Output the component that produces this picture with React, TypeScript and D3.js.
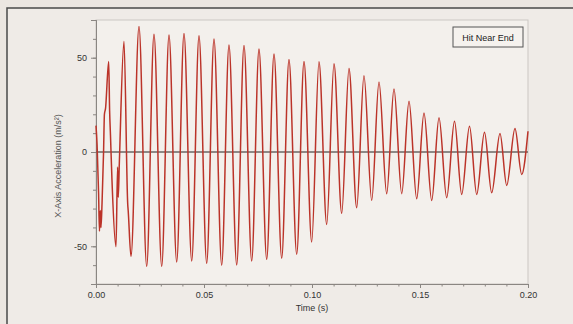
import React, { useRef, useEffect } from "react";
import * as d3 from "d3";

// time in ms, acceleration in m/s²
const onsetTimes = [0, 0.5, 1.2, 1.6, 2.0, 2.3, 2.8, 3.5, 3.9, 4.4, 6.3, 6.7, 7.4, 10.0, 10.3, 10.8, 14.7, 14.9];
const onsetAccel = [14, 4, -22, -42, -31, -40, -27, 0, 20, 23, 22, 9, -15, -8, -24, -6, -28, -31];

const peakTimes = [5.88, 12.96, 19.91, 26.85, 33.8, 40.74, 47.69, 54.63, 61.57, 68.52, 75.46, 82.41, 89.35, 96.3, 103.24, 110.19, 117.13, 124.07, 131.02, 137.96, 144.91, 151.85, 158.8, 165.97, 172.92, 179.86, 187.04, 193.98];
const peakAccel = [48, 58.6, 66.5, 62.5, 62, 62.9, 61.6, 59.9, 56.7, 56.5, 54.6, 52, 49, 48, 47.9, 46.8, 44.3, 40.5, 37.1, 33.4, 26.9, 20.7, 18.1, 16.3, 13.7, 10.5, 9.8, 12.4];

const troughTimes = [9.26, 16.2, 23.47, 30.42, 37.36, 44.31, 51.25, 58.19, 65.14, 72.08, 79.03, 85.97, 92.92, 99.86, 106.81, 113.75, 120.69, 127.64, 134.58, 141.53, 148.47, 155.42, 162.36, 169.31, 176.25, 183.19, 190.14, 197.08];
const troughAccel = [-50.2, -55.4, -60.7, -60.7, -58.3, -57.8, -59, -60, -59.9, -57.8, -56.9, -56.3, -54.2, -47.7, -38.4, -32.5, -29.5, -25.7, -22.1, -22.1, -24.8, -25.7, -24.2, -22.5, -22.5, -21.6, -17.7, -11.9];

const endTimes = [200];
const endAccel = [11];

const xLabelTicks = [0, 0.05, 0.1, 0.15, 0.2];
const yLabelTicks = [-50, 0, 50];
const legendLabel = "Hit Near End";

const W = 573;
const H = 324;
const left = 96, right = 528, top = 20, bottom = 284;
const font = "'Liberation Sans', Arial, sans-serif";

const App = () => {
  const ref = useRef(null);

  useEffect(() => {
    const svg = d3.select(ref.current);
    svg.selectAll("*").remove();

    const x = d3.scaleLinear().domain([0, 0.2]).range([left, right]);
    const y = d3.scaleLinear().domain([-70, 70]).range([bottom, top]);

    const pts = [];
    const add = (ts, vs) => ts.forEach((t, i) => pts.push({ t, a: vs[i] }));
    add(onsetTimes, onsetAccel);
    add(peakTimes, peakAccel);
    add(troughTimes, troughAccel);
    add(endTimes, endAccel);
    pts.sort((p, q) => p.t - q.t);

    // page background and outer frame
    svg.append("rect").attr("width", W).attr("height", H).attr("fill", "#ebe6e1");
    svg.append("rect").attr("x", 7).attr("y", 8).attr("width", W).attr("height", H)
      .attr("fill", "#efebe7").attr("stroke", "#4a4a4a").attr("stroke-width", 1.5);

    // plot area
    svg.append("rect").attr("x", left).attr("y", top).attr("width", right - left).attr("height", bottom - top)
      .attr("fill", "#f3f0ec").attr("stroke", "#cbc7c3").attr("stroke-width", 1);

    // axes
    const xAxis = d3.axisBottom(x).tickValues(xLabelTicks).tickSize(4).tickPadding(2).tickFormat(d3.format(".2f"));
    const gx = svg.append("g").attr("transform", `translate(0,${bottom})`).call(xAxis);
    const gxm = svg.append("g").attr("transform", `translate(0,${bottom})`)
      .call(d3.axisBottom(x).ticks(20).tickSize(2.5).tickFormat(() => ""));

    const yAxis = d3.axisLeft(y).tickValues(yLabelTicks).tickSize(5).tickFormat((d) => String(d));
    const gy = svg.append("g").attr("transform", `translate(${left},0)`).call(yAxis);
    const gym = svg.append("g").attr("transform", `translate(${left},0)`)
      .call(d3.axisLeft(y).ticks(14).tickSize(3).tickFormat(() => ""));

    [gx, gxm, gy, gym].forEach((g) => {
      g.select(".domain").attr("stroke", "#8a8682");
      g.selectAll(".tick line").attr("stroke", "#8a8682");
      g.selectAll("text").attr("font-family", font).attr("font-size", 9).attr("fill", "#333");
    });
    gx.selectAll("text").attr("dy", "0.85em");
    gy.selectAll("text").attr("dx", "-1px");

    // zero line
    svg.append("line").attr("x1", left).attr("x2", right).attr("y1", y(0)).attr("y2", y(0))
      .attr("stroke", "#6a6764").attr("stroke-width", 1.3);

    // signal
    const line = d3.line()
      .x((d) => x(d.t / 1000))
      .y((d) => y(d.a))
      .curve(d3.curveMonotoneX);
    svg.append("path").datum(pts).attr("d", line).attr("fill", "none")
      .attr("stroke", "#bb3329").attr("stroke-width", 1.5).attr("stroke-linejoin", "round");

    // titles
    svg.append("text").attr("x", (left + right) / 2).attr("y", 311).attr("text-anchor", "middle")
      .attr("font-family", font).attr("font-size", 9).attr("fill", "#333").text("Time (s)");
    svg.append("text").attr("transform", `translate(61,166) rotate(-90)`).attr("text-anchor", "middle")
      .attr("font-family", font).attr("font-size", 9).attr("fill", "#555").text("X-Axis Acceleration (m/s²)");

    // legend
    svg.append("rect").attr("x", 453).attr("y", 27).attr("width", 70).attr("height", 20)
      .attr("fill", "#f5f2ee").attr("stroke", "#555").attr("stroke-width", 1);
    svg.append("text").attr("x", 488).attr("y", 40.5).attr("text-anchor", "middle")
      .attr("font-family", font).attr("font-size", 9).attr("fill", "#222").text(legendLabel);
  }, []);

  return (
    <svg ref={ref} width={W} height={H} style={{ position: "absolute", left: 0, top: 0 }} />
  );
};

export default App;
